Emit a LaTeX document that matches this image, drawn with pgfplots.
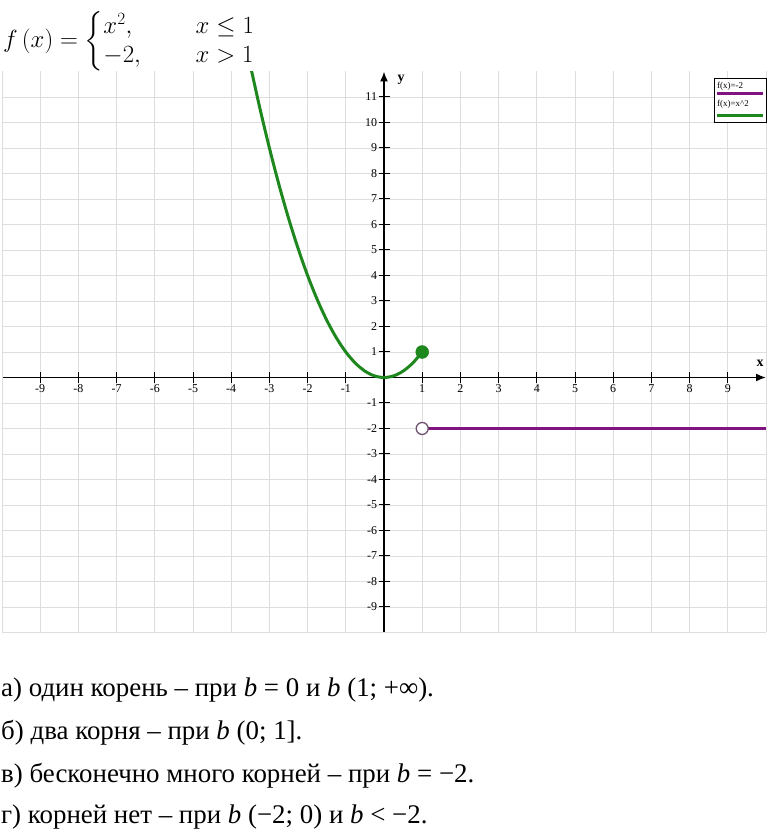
\documentclass[border=0pt]{standalone}
\usepackage{amsmath}
\usepackage{fontspec}
\setmainfont{Liberation Serif}
\newfontfamily\tnr{Liberation Serif}
\usepackage{pgfplots}
\pgfplotsset{compat=1.18}
\usetikzlibrary{arrows.meta}
\definecolor{gcurve}{RGB}{30,135,30}
\definecolor{pline}{RGB}{128,20,128}
\definecolor{pcirc}{RGB}{110,80,110}
\begin{document}
\begin{tikzpicture}
\useasboundingbox (0,0) rectangle (767bp,832bp);
\begin{axis}[
  x=38.2bp, y=25.5bp,
  xmin=-10, xmax=10, ymin=-10, ymax=12,
  at={(2bp,199.5bp)}, anchor=south west,
  axis lines=middle,
  axis line style={line width=1.6bp, -{Latex[length=10bp,width=8bp]}},
  xtick={-9,-8,-7,-6,-5,-4,-3,-2,-1,1,2,3,4,5,6,7,8,9},
  ytick={-9,-8,-7,-6,-5,-4,-3,-2,-1,1,2,3,4,5,6,7,8,9,10,11},
  extra x ticks={-10,10}, extra x tick labels={},
  extra y ticks={-10}, extra y tick labels={},
  extra tick style={major tick length=0pt, grid=major},
  grid=major,
  grid style={black!13, line width=0.8bp},
  major tick length=11bp,
  tick align=center,
  tick style={black, line width=1bp},
  /pgf/number format/assume math mode=true,
  ticklabel style={font=\tnr\fontsize{12}{12}\selectfont, text=black},
  xticklabel style={anchor=north, yshift=2bp},
  yticklabel style={anchor=east, xshift=2bp},
  clip=true,
]
\addplot[gcurve, line width=3bp, smooth] coordinates {
(-3.5,12.25) (-3.25,10.5625) (-3,9) (-2.75,7.5625) (-2.5,6.25) (-2.25,5.0625)
(-2,4) (-1.75,3.0625) (-1.5,2.25) (-1.25,1.5625) (-1,1) (-0.75,0.5625)
(-0.5,0.25) (-0.25,0.0625) (0,0) (0.25,0.0625) (0.5,0.25) (0.75,0.5625) (1,1)};
\addplot[gcurve, only marks, mark=*, mark size=6.5bp, mark options={fill=gcurve, draw=gcurve}] coordinates {(1,1)};
\addplot[pline, line width=3bp] coordinates {(1,-2) (10,-2)};
\addplot[only marks, mark=*, mark size=6bp, mark options={fill=white, draw=pcirc, line width=1.3bp}] coordinates {(1,-2)};
\end{axis}
% axis names
\node[font=\tnr\bfseries\fontsize{14}{14}\selectfont] at (401bp,752bp) {y};
\node[font=\tnr\bfseries\fontsize{14}{14}\selectfont] at (760bp,469bp) {x};
% legend
\draw[black, line width=0.9bp, fill=white] (714bp,710bp) rectangle (766.5bp,754bp);
\node[anchor=base west, font=\tnr\fontsize{9}{9}\selectfont, inner sep=0pt] at (717bp,743bp) {f(x)=-2};
\draw[pline, line width=2.5bp] (717bp,738.5bp) -- (763bp,738.5bp);
\node[anchor=base west, font=\tnr\fontsize{9}{9}\selectfont, inner sep=0pt] at (717bp,725bp) {f(x)=x\^{}2};
\draw[gcurve, line width=2.5bp] (717bp,716.5bp) -- (763bp,716.5bp);
% formula
\node[anchor=north west, inner sep=0pt] at (3bp,823bp) {\fontsize{25}{29}\selectfont $f\,(x)=\begin{cases} x^2, & \hspace{1.2em}x\le 1\\[-6bp] -2, & \hspace{1.2em}x>1\end{cases}$};
% answers
\begin{scope}[every node/.style={anchor=base west, inner sep=0pt, font=\tnr\fontsize{27}{27}\selectfont}]
\node at (1bp,135bp) {а) один корень – при \textit{b} = 0 и \textit{b} (1; +∞).};
\node at (1bp,92bp) {б) два корня – при \textit{b} (0; 1].};
\node at (1bp,49bp) {в) бесконечно много корней – при \textit{b} = −2.};
\node at (1bp,9bp) {г) корней нет – при \textit{b} (−2; 0) и \textit{b} < −2.};
\end{scope}
\end{tikzpicture}
\end{document}
